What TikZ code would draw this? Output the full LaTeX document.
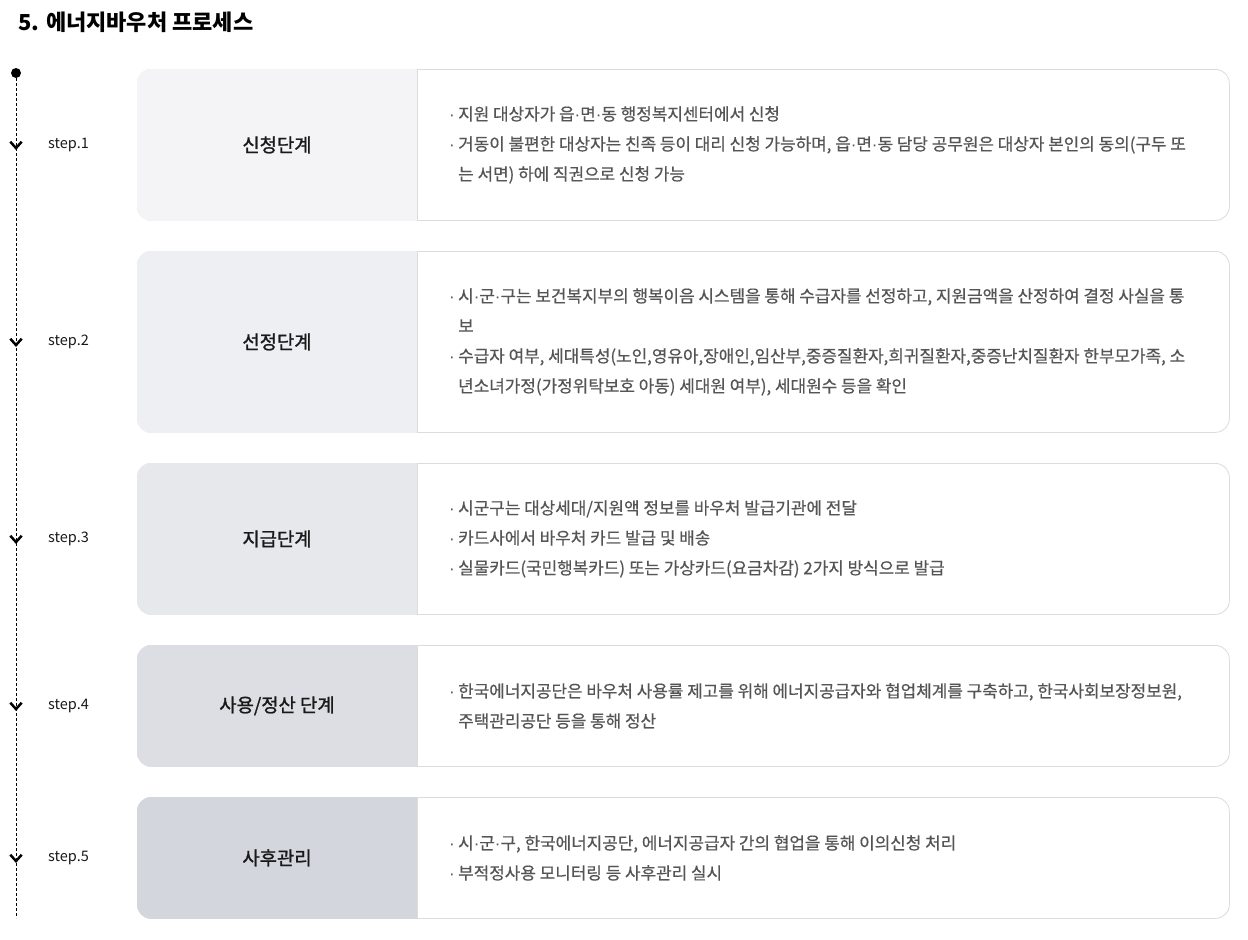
\documentclass[tikz,border=0pt]{standalone}
\usepackage{fontspec}
\setmainfont{Noto Sans CJK KR}
\newfontfamily\headfont[FakeBold=1.2]{Noto Sans CJK KR}
\newfontfamily\descfont[FakeBold=0.5]{Noto Sans CJK KR}
\newfontfamily\dotfont{Liberation Sans}
\usetikzlibrary{positioning}
\definecolor{tone1}{HTML}{F4F4F6}
\definecolor{tone2}{HTML}{EEEFF2}
\definecolor{tone3}{HTML}{E7E8EB}
\definecolor{tone4}{HTML}{DDDEE3}
\definecolor{tone5}{HTML}{D3D6DC}
\definecolor{edge}{HTML}{DCDCDC}
\definecolor{bodytext}{HTML}{555555}
\newcommand\md{{\dotfont ·}}
\newcommand\bl{\makebox[9pt][l]{\md}}
\newcommand\cn{\hspace*{9pt}}
\newcommand\leftfill[2]{%
  \begin{scope}
  \clip[rounded corners=14pt] (#1.north west) rectangle (#1.south east);
  \fill[#2] (#1.north west) rectangle ([xshift=280pt]#1.south west);
  \end{scope}
  \draw[edge, line width=0.8pt] ([xshift=280pt]#1.north west) -- ([xshift=280pt]#1.south west);}

\begin{document}
\begin{tikzpicture}[x=1pt, y=-1pt,
  card/.style={draw=edge, line width=0.8pt, fill=white, rounded corners=14pt, minimum width=1092pt, inner sep=0pt},
  head/.style={font=\headfont\fontsize{18.8}{22}\selectfont, text=black!90},
  desc/.style={anchor=west, align=left, inner sep=0pt, text=bodytext, font=\descfont\fontsize{16.9}{30}\selectfont},
  steplbl/.style={anchor=west, inner sep=0pt, font=\fontsize{14.5}{17}\selectfont, text=black!90},
  chev/.style={minimum width=11pt, minimum height=6pt, inner sep=0pt},
  chevline/.style={line width=2.5pt},
  dot/.style={circle, fill=black, minimum size=10pt, inner sep=0pt},
  tl/.style={line width=0.7pt, dash pattern=on 3pt off 2pt}]
\useasboundingbox (0,0) rectangle (1248,940);

\node[anchor=west, inner sep=0pt, font=\fontsize{22}{24}\selectfont\bfseries] (title) at (18,22) {5. 에너지바우처 프로세스};

\node[dot] (top) at (16,73) {};
\coordinate (bot) at (16,918);
\draw[tl] (top.center) -- (bot);

\node[card, anchor=north west, minimum height=151pt] (c1) at (137,69) {};
\node[card, minimum height=181pt, below=30.2pt of c1] (c2) {};
\node[card, minimum height=151pt, below=30.2pt of c2] (c3) {};
\node[card, minimum height=121pt, below=30.2pt of c3] (c4) {};
\node[card, minimum height=121pt, below=30.2pt of c4] (c5) {};

\leftfill{c1}{tone1}
\leftfill{c2}{tone2}
\leftfill{c3}{tone3}
\leftfill{c4}{tone4}
\leftfill{c5}{tone5}

\node[head] (h1) at ([xshift=140pt]c1.west) {신청단계};
\node[head] (h2) at ([xshift=140pt]c2.west) {선정단계};
\node[head] (h3) at ([xshift=140pt]c3.west) {지급단계};
\node[head] (h4) at ([xshift=140pt]c4.west) {사용/정산 단계};
\node[head] (h5) at ([xshift=140pt]c5.west) {사후관리};

\node[chev] (v1) at (c1.west -| top) {};
\node[chev] (v2) at (c2.west -| top) {};
\node[chev] (v3) at (c3.west -| top) {};
\node[chev] (v4) at (c4.west -| top) {};
\node[chev] (v5) at (c5.west -| top) {};
\foreach \v in {v1,v2,v3,v4,v5}
  \draw[chevline] (\v.north west) -- (\v.south) -- (\v.north east);

\node[steplbl] (s1) at ([xshift=32pt]v1.center) {step.1};
\node[steplbl] (s2) at ([xshift=32pt]v2.center) {step.2};
\node[steplbl] (s3) at ([xshift=32pt]v3.center) {step.3};
\node[steplbl] (s4) at ([xshift=32pt]v4.center) {step.4};
\node[steplbl] (s5) at ([xshift=32pt]v5.center) {step.5};

\node[desc] (t1) at ([xshift=312pt]c1.west) {\bl 지원 대상자가 읍\md 면\md 동 행정복지센터에서 신청\\
\bl 거동이 불편한 대상자는 친족 등이 대리 신청 가능하며, 읍\md 면\md 동 담당 공무원은 대상자 본인의 동의(구두 또\\
\cn 는 서면) 하에 직권으로 신청 가능};
\node[desc] (t2) at ([xshift=312pt]c2.west) {\bl 시\md 군\md 구는 보건복지부의 행복이음 시스템을 통해 수급자를 선정하고, 지원금액을 산정하여 결정 사실을 통\\
\cn 보\\
\bl 수급자 여부, 세대특성(노인,영유아,장애인,임산부,중증질환자,희귀질환자,중증난치질환자 한부모가족, 소\\
\cn 년소녀가정(가정위탁보호 아동) 세대원 여부), 세대원수 등을 확인};
\node[desc] (t3) at ([xshift=312pt]c3.west) {\bl 시군구는 대상세대/지원액 정보를 바우처 발급기관에 전달\\
\bl 카드사에서 바우처 카드 발급 및 배송\\
\bl 실물카드(국민행복카드) 또는 가상카드(요금차감) 2가지 방식으로 발급};
\node[desc] (t4) at ([xshift=312pt]c4.west) {\bl 한국에너지공단은 바우처 사용률 제고를 위해 에너지공급자와 협업체계를 구축하고, 한국사회보장정보원,\\
\cn 주택관리공단 등을 통해 정산};
\node[desc] (t5) at ([xshift=312pt]c5.west) {\bl 시\md 군\md 구, 한국에너지공단, 에너지공급자 간의 협업을 통해 이의신청 처리\\
\bl 부적정사용 모니터링 등 사후관리 실시};
\end{tikzpicture}
\end{document}
